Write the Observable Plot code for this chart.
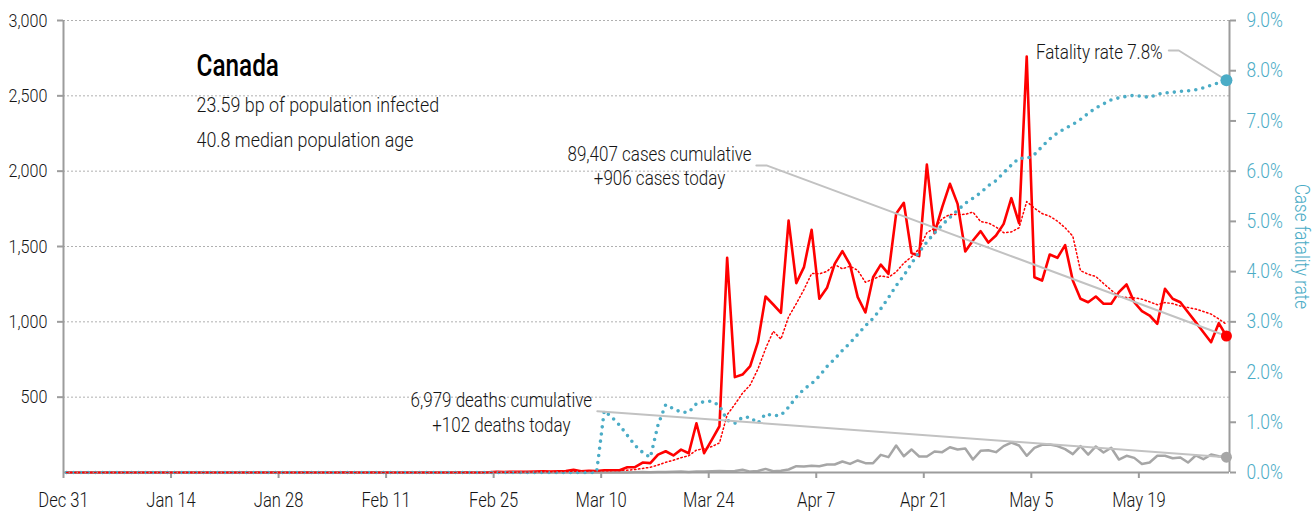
<!DOCTYPE html>
<html><head><meta charset="utf-8">
<script src="https://cdn.jsdelivr.net/npm/d3@7"></script>
<script src="https://cdn.jsdelivr.net/npm/@observablehq/plot@0.6"></script>
<style>
html,body{margin:0;padding:0;background:#fff;}
#chart svg{display:block;}
</style></head><body><div id="chart"></div>
<script>
// ---------- data (one value per day, starting 2019-12-31) ----------
const startDate = "2019-12-31";
const dailyCases = [
  0,0,0,0,0,0,0,0,0,0,0,0,0,0,
  0,0,0,0,0,0,0,0,0,0,0,1,0,1,
  0,0,0,1,0,0,0,0,1,1,0,0,1,0,
  0,0,0,0,0,0,0,0,0,1,1,0,0,2,
  4,3,5,4,5,6,8,6,8,10,18,8,12,10,
  15,15,15,35,35,66,62,119,141,113,152,128,327,128,
  217,307,1425,633,650,706,865,1168,1115,1060,1672,1257,1363,1611,
  1153,1226,1385,1469,1380,1164,1062,1296,1380,1318,1717,1790,1456,1436,
  2044,1588,1761,1916,1783,1467,1540,1602,1526,1573,1650,1821,1655,2761,
  1296,1274,1447,1425,1509,1274,1153,1130,1168,1120,1120,1197,1248,1130,
  1071,1042,987,1219,1153,1130,1064,998,931,865,991,906
];
const casesAvg7 = [
  0,0,0,0,0,0,0,0,0,0,0,0,0,0,
  0,0,0,0,0,0,0,0,0,0,0,0.1,0.1,0.3,
  0.3,0.3,0.3,0.4,0.3,0.3,0.1,0.1,0.3,0.4,0.3,0.3,0.4,0.4,
  0.4,0.3,0.1,0.1,0.1,0,0,0,0,0.1,0.3,0.3,0.3,0.6,
  1.1,1.6,2.1,2.6,3.3,4.1,5,5.3,6,6.7,8.7,9.1,10,10.3,
  11.6,12.6,13.3,15.7,19.6,27.3,34.7,49.6,67.6,81.6,98.3,111.6,148.9,158.3,
  172.3,196,383.4,452.1,526.7,580.9,686.1,822,937.4,885.3,1033.7,1120.4,1214.3,1320.9,
  1318.7,1334.6,1381,1352,1369.6,1341.1,1262.7,1283.1,1305.1,1295.6,1331,1389.6,1431.3,1484.7,
  1591.6,1621.3,1684.6,1713,1712,1713.6,1728.4,1665.3,1656.4,1629.6,1591.6,1597,1623.9,1798.3,
  1754.6,1718.6,1700.6,1668.4,1623.9,1569.4,1339.7,1316,1300.9,1254.1,1210.6,1166,1162.3,1159,
  1150.6,1132.6,1113.6,1127.7,1121.4,1104.6,1095.1,1084.7,1068.9,1051.4,1018.9,983.6
];
const dailyDeaths = [
  0,0,0,0,0,0,0,0,0,0,0,0,0,0,
  0,0,0,0,0,0,0,0,0,0,0,0,0,0,
  0,0,0,0,0,0,0,0,0,0,0,0,0,0,
  0,0,0,0,0,0,0,0,0,0,0,0,0,0,
  0,0,0,0,0,0,0,0,0,0,0,0,0,1,
  0,0,1,0,1,3,2,3,4,5,6,4,6,7,
  8,10,8,10,18,6,10,24,8,12,20,42,40,44,
  42,53,53,73,57,80,62,62,117,102,179,108,153,106,
  106,139,135,168,153,159,86,144,148,135,175,199,179,111,
  164,184,186,175,155,122,175,119,173,133,164,86,111,97,
  57,66,111,111,95,100,66,113,88,119,108,102
];
const fatalityRate = [ // percent
  0,0,0,0,0,0,0,0,0,0,0,0,0,0,
  0,0,0,0,0,0,0,0,0,0,0,0,0,0,
  0,0,0,0,0,0,0,0,0,0,0,0,0,0,
  0,0,0,0,0,0,0,0,0,0,0,0,0,0,
  0,0,0,0,0,0,0,0,0,0,0,0,0,0,
  1.23,1.10,0.94,0.74,0.54,0.40,0.30,0.95,1.35,1.27,1.20,1.20,1.37,1.41,
  1.42,1.33,1.04,0.98,1.10,1.10,0.98,1.17,1.13,1.14,1.30,1.50,1.66,1.77,
  1.92,2.11,2.26,2.43,2.58,2.75,2.92,3.07,3.26,3.48,3.72,3.92,4.16,4.39,
  4.59,4.77,4.93,5.08,5.22,5.36,5.46,5.57,5.71,5.81,5.97,6.12,6.26,6.25,
  6.33,6.49,6.64,6.76,6.85,6.93,7.03,7.15,7.26,7.34,7.42,7.46,7.49,7.51,
  7.49,7.47,7.53,7.56,7.57,7.59,7.60,7.62,7.66,7.71,7.76,7.81
];
const leftTicks = [500, 1000, 1500, 2000, 2500, 3000];
const rightTicks = [0, 1, 2, 3, 4, 5, 6, 7, 8, 9];
const xTickDays = [0, 14, 28, 42, 56, 70, 84, 98, 112, 126, 140];
const title = "Canada";
const subtitleLines = ["23.59 bp of population infected", "40.8 median population age"];
const casesNote = ["89,407 cases cumulative", "+906 cases today"];
const deathsNote = ["6,979 deaths cumulative", "+102 deaths today"];
const rateNote = "Fatality rate 7.8%";
const rightLabel = "Case fatality rate";

// ---------- helpers ----------
const DAY = 864e5;
const t0 = Date.parse(startDate + "T00:00:00Z");
const dayAt = d => new Date(t0 + d * DAY);
const OFFSET = 0.4;
const RATE_MAX = 9, Y_MAX = 3000;
const rateToY = r => r * Y_MAX / RATE_MAX;
const X_END = 151.8;

const rows = dailyCases.map((c, i) => ({
  date: dayAt(i + OFFSET), cases: c, avg: casesAvg7[i], deaths: dailyDeaths[i], rate: rateToY(fatalityRate[i])
}));
const last = rows[rows.length - 1];

const FONT = 'Roboto,"Liberation Sans",sans-serif';
const RED = "#ff0000", TEAL = "#4bacc6", GREY = "#a6a6a6", AXIS = "#9c9c9c",
      GRID = "#b0b0b0", CONNECT = "#c2c2c2", TEXT = "#151515";
const LIGHT = 300;

const chart = Plot.plot({
  width: 1315, height: 514,
  marginLeft: 63, marginRight: 86, marginTop: 20, marginBottom: 42,
  style: {fontFamily: FONT, fontSize: "19px", background: "#fff", color: TEXT, overflow: "visible"},
  x: {type: "utc", domain: [dayAt(0), dayAt(X_END)]},
  y: {domain: [0, Y_MAX]},
  marks: [
    Plot.gridY(leftTicks, {stroke: GRID, strokeOpacity: 1, strokeDasharray: "2,2"}),
    Plot.axisY(leftTicks, {anchor: "left", tickFormat: d3.format(","), tickSize: 6, tickPadding: 10,
      stroke: AXIS, strokeWidth: 2, fill: TEXT, label: null, fontSize: 19, fontWeight: LIGHT}),
    Plot.axisY(rightTicks.map(rateToY), {anchor: "right", tickFormat: v => (v * RATE_MAX / Y_MAX).toFixed(1) + "%",
      tickSize: 6, tickPadding: 11, stroke: AXIS, strokeWidth: 2, fill: TEAL, label: null, fontSize: 20.5, fontWeight: LIGHT}),
    Plot.axisX(xTickDays.map(dayAt), {tickFormat: d3.utcFormat("%b %-d"), tickSize: 6, tickPadding: 15,
      stroke: AXIS, strokeWidth: 2, fill: TEXT, label: null, fontSize: 19.5, fontWeight: LIGHT}),
    // series drawn under the baseline rule
    Plot.line(rows, {x: "date", y: "deaths", stroke: GREY, strokeWidth: 2.5}),
    Plot.line(rows, {x: "date", y: "cases", stroke: RED, strokeWidth: 2.6}),
    Plot.ruleX([dayAt(0), dayAt(X_END)], {stroke: AXIS, strokeWidth: 2}),
    Plot.ruleY([0], {stroke: AXIS, strokeWidth: 2}),
    Plot.line(rows, {x: "date", y: "rate", stroke: TEAL, strokeWidth: 3.6, strokeDasharray: "0,7.2", strokeLinecap: "round"}),
    Plot.line(rows, {x: "date", y: "avg", stroke: RED, strokeWidth: 1.5, strokeDasharray: "1.4,2.6"}),
    // connectors
    Plot.line([[dayAt(90.2), 2037], [dayAt(91.6), 2037], [last.date, last.cases]], {x: d => d[0], y: d => d[1], stroke: CONNECT, strokeWidth: 2}),
    Plot.line([[dayAt(69.5), 407], [last.date, last.deaths]], {x: d => d[0], y: d => d[1], stroke: CONNECT, strokeWidth: 2}),
    Plot.line([[dayAt(143.9), 2801], [dayAt(145.2), 2801], [last.date, last.rate]], {x: d => d[0], y: d => d[1], stroke: CONNECT, strokeWidth: 2}),
    // end dots
    Plot.dot([last], {x: "date", y: "deaths", r: 5.5, fill: GREY}),
    Plot.dot([last], {x: "date", y: "cases", r: 5.5, fill: RED}),
    Plot.dot([last], {x: "date", y: "rate", r: 6, fill: TEAL}),
    // notes
    Plot.text([casesNote.join("\n")], {x: () => dayAt(77.6), y: () => 1905, text: d => d, textAnchor: "middle",
      lineAnchor: "bottom", lineHeight: 1.23, fontSize: 20, fill: TEXT, fontWeight: LIGHT}),
    Plot.text([deathsNote.join("\n")], {x: () => dayAt(57.0), y: () => 267, text: d => d, textAnchor: "middle",
      lineAnchor: "bottom", lineHeight: 1.25, fontSize: 20, fill: TEXT, fontWeight: LIGHT}),
    Plot.text([rateNote], {x: () => dayAt(143.1), y: () => 2746, text: d => d, textAnchor: "end",
      lineAnchor: "bottom", fontSize: 20, fill: TEXT, fontWeight: LIGHT}),
    // title block
    Plot.text([title], {frameAnchor: "top-left", dx: 133, dy: 55, textAnchor: "start", lineAnchor: "bottom",
      fontSize: 32, fontWeight: 500, fill: "#000", className: "title-mark"}),
    Plot.text([subtitleLines.join("\n")], {frameAnchor: "top-left", dx: 133, dy: 126, textAnchor: "start", lineAnchor: "bottom",
      fontSize: 21, lineHeight: 1.667, fill: TEXT, fontWeight: LIGHT}),
    // right axis title
    Plot.text([rightLabel], {frameAnchor: "right", dx: 72, rotate: 90, textAnchor: "middle", fill: TEAL, fontSize: 20, fontWeight: LIGHT})
  ]
});
document.getElementById("chart").appendChild(chart);

// condensed look: squeeze glyphs horizontally (no condensed face is installed)
function squeeze(root, k) {
  root.querySelectorAll("text").forEach(t => {
    const spans = t.querySelectorAll("tspan");
    (spans.length ? [...spans] : [t]).forEach(el => {
      const w = el.getComputedTextLength();
      if (w > 0) { el.setAttribute("textLength", (w * k).toFixed(2)); el.setAttribute("lengthAdjust", "spacingAndGlyphs"); }
    });
  });
}
chart.querySelectorAll("g").forEach(g => {
  if (g.classList && [...g.classList].some(c => c.includes("title-mark"))) { squeeze(g, 0.76); g.dataset.done = "1"; }
});
chart.querySelectorAll("g[aria-label]").forEach(g => { if (!g.dataset.done) squeeze(g, 0.85); });
</script>
</body></html>
